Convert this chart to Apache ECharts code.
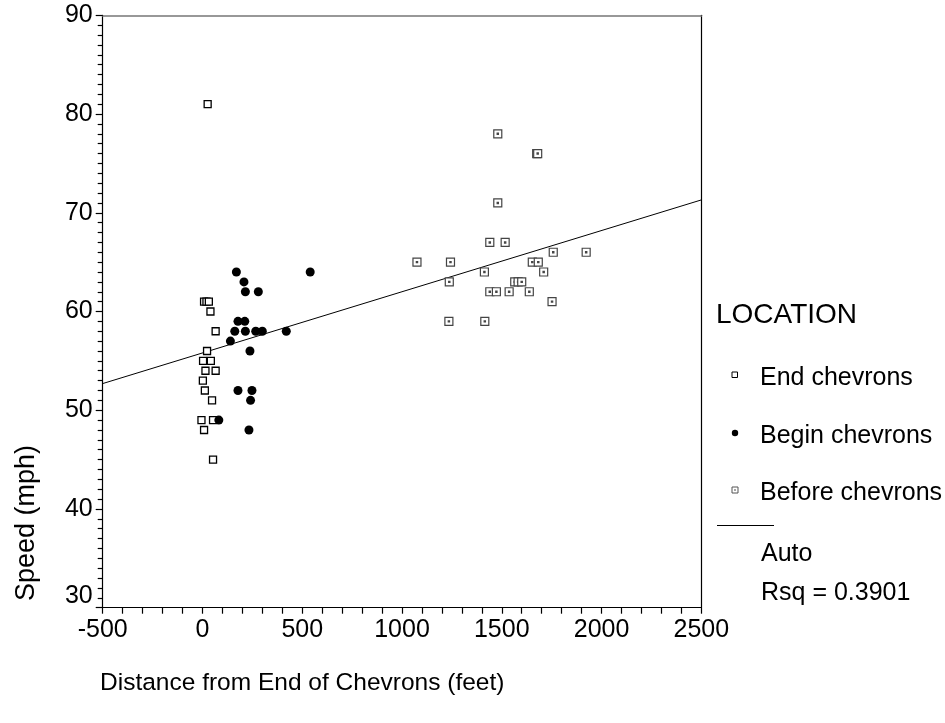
<!DOCTYPE html>
<html>
<head>
<meta charset="utf-8">
<script src="https://cdn.jsdelivr.net/npm/echarts@6/dist/echarts.min.js"></script>
<style>
  html, body { margin: 0; padding: 0; background: #fff; }
  #chart { width: 945px; height: 723px; }
</style>
</head>
<body>
<div id="chart"></div>
<script>
// Speed observations (distance in feet, speed in mph) by location
const endChevrons = [
  [26, 81], [8, 61], [20, 61], [32, 61], [40, 60], [66, 58], [23, 56],
  [3, 55], [42, 55], [15, 54], [66, 54], [2, 53], [12, 52], [48, 51],
  [-5, 49], [53, 49], [8, 48], [53, 45]
];
const beginChevrons = [
  [170, 64], [208, 63], [215, 62], [280, 62], [178, 59], [212, 59],
  [162, 58], [215, 58], [267, 58], [300, 58], [420, 58], [140, 57],
  [238, 56], [540, 64], [178, 52], [248, 52], [241, 51], [82, 49], [233, 48]
];
const beforeChevrons = [
  [1075, 65], [1243, 65], [1237, 63], [1235, 59], [1413, 64], [1415, 59],
  [1440, 67], [1517, 67], [1440, 62], [1473, 62], [1537, 62], [1565, 63],
  [1582, 63], [1600, 63], [1638, 62], [1653, 65], [1683, 65], [1710, 64],
  [1752, 61], [1758, 66], [1923, 66], [1480, 78], [1480, 71], [1675, 76], [1680, 76]
];

// Linear fit over all observations
const fitIntercept = 55.8;
const fitSlope = 0.0062;
const fitLabel = 'Rsq = 0.3901';

const xMin = -500, xMax = 2500, xStep = 500;
const yMin = 30, yMax = 90, yStep = 10;

const FONT = '"Liberation Sans", Arial, sans-serif';

const fitLine = [
  [xMin, fitIntercept + fitSlope * xMin],
  [xMax, fitIntercept + fitSlope * xMax]
];

// square outline with a small inner square, stroked to read as a dot
const dotSquare = 'path://M0,0L10,0L10,10L0,10Z M4.2,4.2L5.8,4.2L5.8,5.8L4.2,5.8Z';

const chart = echarts.init(document.getElementById('chart'), null, { renderer: 'canvas' });

chart.setOption({
  animation: false,
  backgroundColor: '#fff',
  grid: { left: 102.7, top: 15.3, right: 243.7, bottom: 115.3, containLabel: false },
  xAxis: [{
    type: 'value', min: xMin, max: xMax, interval: xStep,
    axisLine: { show: true, onZero: false, lineStyle: { color: '#000', width: 1.2 } },
    axisTick: { show: true, inside: false, length: 6, lineStyle: { color: '#000', width: 1.2 } },
    minorTick: { show: true, splitNumber: 5, length: 6, lineStyle: { color: '#000', width: 1.2 } },
    axisLabel: { show: true, margin: 10, color: '#000', fontSize: 25, fontFamily: FONT,
      formatter: v => String(v) },
    splitLine: { show: false }
  }, {
    type: 'value', position: 'top', min: xMin, max: xMax,
    axisLine: { show: true, onZero: false, lineStyle: { color: '#777', width: 1.5 } },
    axisTick: { show: false }, axisLabel: { show: false }, splitLine: { show: false }
  }],
  yAxis: [{
    type: 'value', min: yMin, max: yMax, interval: yStep,
    axisLine: { show: true, onZero: false, lineStyle: { color: '#000', width: 1.2 } },
    axisTick: { show: true, inside: false, length: 7, lineStyle: { color: '#000', width: 1.2 } },
    minorTick: { show: true, splitNumber: 10, length: 5, lineStyle: { color: '#000', width: 1.2 } },
    axisLabel: {
      show: true, margin: 10, color: '#000', fontSize: 25, fontFamily: FONT,
      formatter: v => (v === yMin ? '{lo|' + v + '}' : String(v)),
      rich: { lo: { fontSize: 25, fontFamily: FONT, color: '#000', padding: [0, 0, 24, 0] } }
    },
    splitLine: { show: false }
  }, {
    type: 'value', position: 'right', min: yMin, max: yMax,
    axisLine: { show: true, onZero: false, lineStyle: { color: '#000', width: 1.2 } },
    axisTick: { show: false }, axisLabel: { show: false }, splitLine: { show: false }
  }],
  series: [
    {
      name: 'Auto', type: 'line', data: fitLine, silent: true,
      symbol: 'none', lineStyle: { color: '#000', width: 1 }, z: 1
    },
    {
      name: 'End chevrons', type: 'scatter', data: endChevrons,
      symbol: 'rect', symbolSize: 7,
      itemStyle: { color: '#fff', borderColor: '#000', borderWidth: 1.3, opacity: 1 }, z: 3
    },
    {
      name: 'Begin chevrons', type: 'scatter', data: beginChevrons,
      symbol: 'circle', symbolSize: 9,
      itemStyle: { color: '#000', opacity: 1 }, z: 3
    },
    {
      name: 'Before chevrons', type: 'scatter', data: beforeChevrons,
      symbol: dotSquare, symbolSize: 8,
      itemStyle: { color: '#fff', borderColor: '#444', borderWidth: 1.2, opacity: 1 }, z: 3
    }
  ],
  graphic: [
    { type: 'text', x: 27, y: 523, rotation: Math.PI / 2,
      style: { text: 'Speed (mph)', fontSize: 27, fontFamily: FONT, fill: '#000', align: 'center', verticalAlign: 'middle' } },
    { type: 'text', x: 100, y: 683,
      style: { text: 'Distance from End of Chevrons (feet)', fontSize: 24.5, fontFamily: FONT, fill: '#000', align: 'left', verticalAlign: 'middle' } },
    { type: 'text', x: 716, y: 315,
      style: { text: 'LOCATION', fontSize: 28, fontFamily: FONT, fill: '#000', verticalAlign: 'middle' } },
    { type: 'rect', shape: { x: 732, y: 372, width: 5.5, height: 5.5 },
      style: { fill: '#fff', stroke: '#000', lineWidth: 1 } },
    { type: 'text', x: 760, y: 378,
      style: { text: 'End chevrons', fontSize: 25, fontFamily: FONT, fill: '#000', verticalAlign: 'middle' } },
    { type: 'circle', shape: { cx: 735, cy: 433, r: 3.2 }, style: { fill: '#000' } },
    { type: 'text', x: 760, y: 436,
      style: { text: 'Begin chevrons', fontSize: 25, fontFamily: FONT, fill: '#000', verticalAlign: 'middle' } },
    { type: 'rect', shape: { x: 732, y: 487, width: 6, height: 6 },
      style: { fill: '#fff', stroke: '#555', lineWidth: 1 } },
    { type: 'rect', shape: { x: 734.5, y: 489.5, width: 1, height: 1 },
      style: { fill: '#555', stroke: '#777', lineWidth: 0.6 } },
    { type: 'text', x: 760, y: 493,
      style: { text: 'Before chevrons', fontSize: 25, fontFamily: FONT, fill: '#000', verticalAlign: 'middle' } },
    { type: 'line', shape: { x1: 717, y1: 525.5, x2: 774, y2: 525.5 },
      style: { stroke: '#000', lineWidth: 1 } },
    { type: 'text', x: 761, y: 554,
      style: { text: 'Auto', fontSize: 25, fontFamily: FONT, fill: '#000', verticalAlign: 'middle' } },
    { type: 'text', x: 761, y: 593,
      style: { text: fitLabel, fontSize: 25, fontFamily: FONT, fill: '#000', verticalAlign: 'middle' } }
  ]
});
</script>
</body>
</html>
